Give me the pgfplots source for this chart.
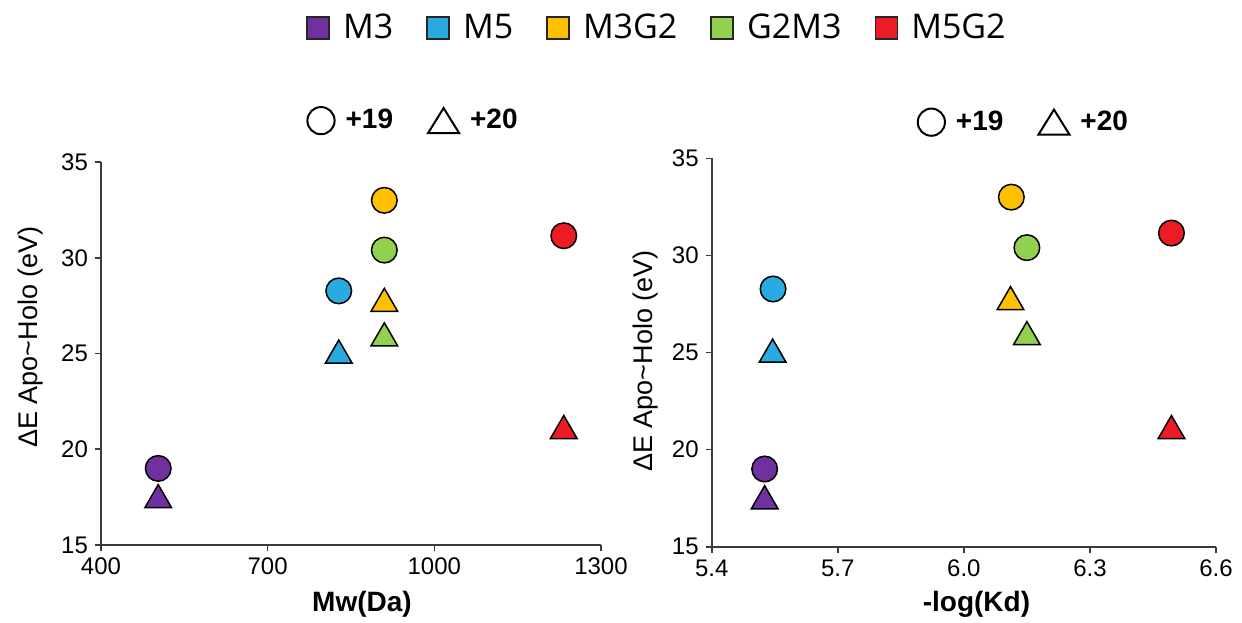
\documentclass[border=0pt]{standalone}
\usepackage{pgfplots}
\pgfplotsset{compat=1.18}
\usepackage{fontspec}
\setmainfont{Liberation Sans}
\newfontfamily\legfont{Open Sans}
\definecolor{cM3}{HTML}{7030A0}
\definecolor{cM5}{HTML}{29ABE2}
\definecolor{cM3G2}{HTML}{FFC000}
\definecolor{cG2M3}{HTML}{92D050}
\definecolor{cM5G2}{HTML}{ED1C24}
\definecolor{axgray}{HTML}{3A3A3A}
\pgfplotsset{
 myax/.style={scale only axis, axis lines*=left,
   axis line style={-, axgray, line width=0.8pt},
   tick style={axgray, line width=0.8pt}, tick align=outside, major tick length=3pt,
   ymin=15, ymax=35, ytick={15,20,25,30,35}, minor tick num=0,
   tick label style={font=\fontsize{12}{14}\selectfont},
   /pgf/number format/assume math mode=true,
   /pgf/number format/1000 sep={},
   clip=false,
   legend style={draw=none, fill=none, legend columns=-1, anchor=center,
     font=\bfseries\fontsize{14}{16}\selectfont,
     /tikz/every odd column/.append style={column sep=3pt},
     /tikz/every even column/.append style={column sep=15pt}},
 },
 circ/.style={only marks, mark=*, mark size=6.4pt, mark options={draw=black, line width=0.75pt, fill=#1}, forget plot},
 tri/.style={only marks, mark=triangle*, mark size=7.7pt, mark options={draw=black, line width=0.75pt, fill=#1}, forget plot},
 sq/.style={legend image code/.code={\draw[fill=#1,draw=black!85,line width=0.9pt] (0pt,-5.5pt) rectangle (11pt,5.5pt);}},
 ocirc/.style={legend image code/.code={\draw[line width=1pt, black] (6.8pt,0pt) circle (6.8pt);}},
 otri/.style={legend image code/.code={\draw[line width=1pt, black, line join=miter] (0pt,-6.2pt) -- (15.5pt,-6.2pt) -- (7.75pt,6.3pt) -- cycle;}},
}
\begin{document}
\begin{tikzpicture}
\useasboundingbox (0,0) rectangle (621pt,311pt);
% left panel
\begin{axis}[myax, at={(50.5pt,38.5pt)}, anchor=south west, width=250pt, height=191.5pt,
  xmin=400, xmax=1300, xtick={400,700,1000,1300},
  legend style={at={(axis description cs:0.626,1.108)}}]
\addlegendimage{ocirc}\addlegendentry{+19}
\addlegendimage{otri}\addlegendentry{+20}
\addplot[circ=cM3] coordinates {(503,19.0)};
\addplot[tri=cM3] coordinates {(503,17.35)};
\addplot[circ=cM5] coordinates {(828,28.27)};
\addplot[tri=cM5] coordinates {(828,24.9)};
\addplot[circ=cM3G2] coordinates {(910,33.0)};
\addplot[tri=cM3G2] coordinates {(910,27.6)};
\addplot[circ=cG2M3] coordinates {(910,30.4)};
\addplot[tri=cG2M3] coordinates {(910,25.8)};
\addplot[circ=cM5G2] coordinates {(1233,31.15)};
\addplot[tri=cM5G2] coordinates {(1233,20.96)};
\node[font=\fontsize{13.5}{16}\selectfont, rotate=90] at (axis description cs:-0.140,0.543) {ΔE Apo\textasciitilde Holo (eV)};
\node[font=\bfseries\fontsize{14}{16}\selectfont] at (axis description cs:0.522,-0.154) {Mw(Da)};
\end{axis}
% right panel
\begin{axis}[myax, at={(355.85pt,37.65pt)}, anchor=south west, width=252.15pt, height=194.2pt,
  xmin=5.4, xmax=6.6, xtick={5.4,5.7,6.0,6.3,6.6},
  xticklabel style={/pgf/number format/.cd, fixed, fixed zerofill, precision=1},
  legend style={at={(axis description cs:0.620,1.093)}}]
\addlegendimage{ocirc}\addlegendentry{+19}
\addlegendimage{otri}\addlegendentry{+20}
\addplot[circ=cM3] coordinates {(5.526,19.0)};
\addplot[tri=cM3] coordinates {(5.526,17.35)};
\addplot[circ=cM5] coordinates {(5.546,28.27)};
\addplot[tri=cM5] coordinates {(5.545,24.9)};
\addplot[circ=cM3G2] coordinates {(6.113,33.0)};
\addplot[tri=cM3G2] coordinates {(6.111,27.6)};
\addplot[circ=cG2M3] coordinates {(6.150,30.4)};
\addplot[tri=cG2M3] coordinates {(6.150,25.8)};
\addplot[circ=cM5G2] coordinates {(6.494,31.15)};
\addplot[tri=cM5G2] coordinates {(6.494,20.96)};
\node[font=\fontsize{13.5}{16}\selectfont, rotate=90] at (axis description cs:-0.132,0.478) {ΔE Apo\textasciitilde Holo (eV)};
\node[font=\bfseries\fontsize{14}{16}\selectfont] at (axis description cs:0.525,-0.1475) {-log(Kd)};
\end{axis}
% colour legend
\begin{axis}[hide axis, scale only axis, width=20pt, height=10pt, xmin=0, xmax=1, ymin=0, ymax=1,
  at={(329pt,297pt)}, anchor=center,
  legend style={at={(0.5,0.5)}, anchor=center, draw=none, fill=none, legend columns=-1,
    font=\legfont\fontsize{17}{20}\selectfont,
    /tikz/every odd column/.append style={column sep=4.5pt},
    /tikz/every even column/.append style={column sep=14.5pt}}]
\addlegendimage{sq=cM3}\addlegendentry{M3}
\addlegendimage{sq=cM5}\addlegendentry{M5}
\addlegendimage{sq=cM3G2}\addlegendentry{M3G2}
\addlegendimage{sq=cG2M3}\addlegendentry{G2M3}
\addlegendimage{sq=cM5G2}\addlegendentry{M5G2}
\end{axis}
\end{tikzpicture}
\end{document}
